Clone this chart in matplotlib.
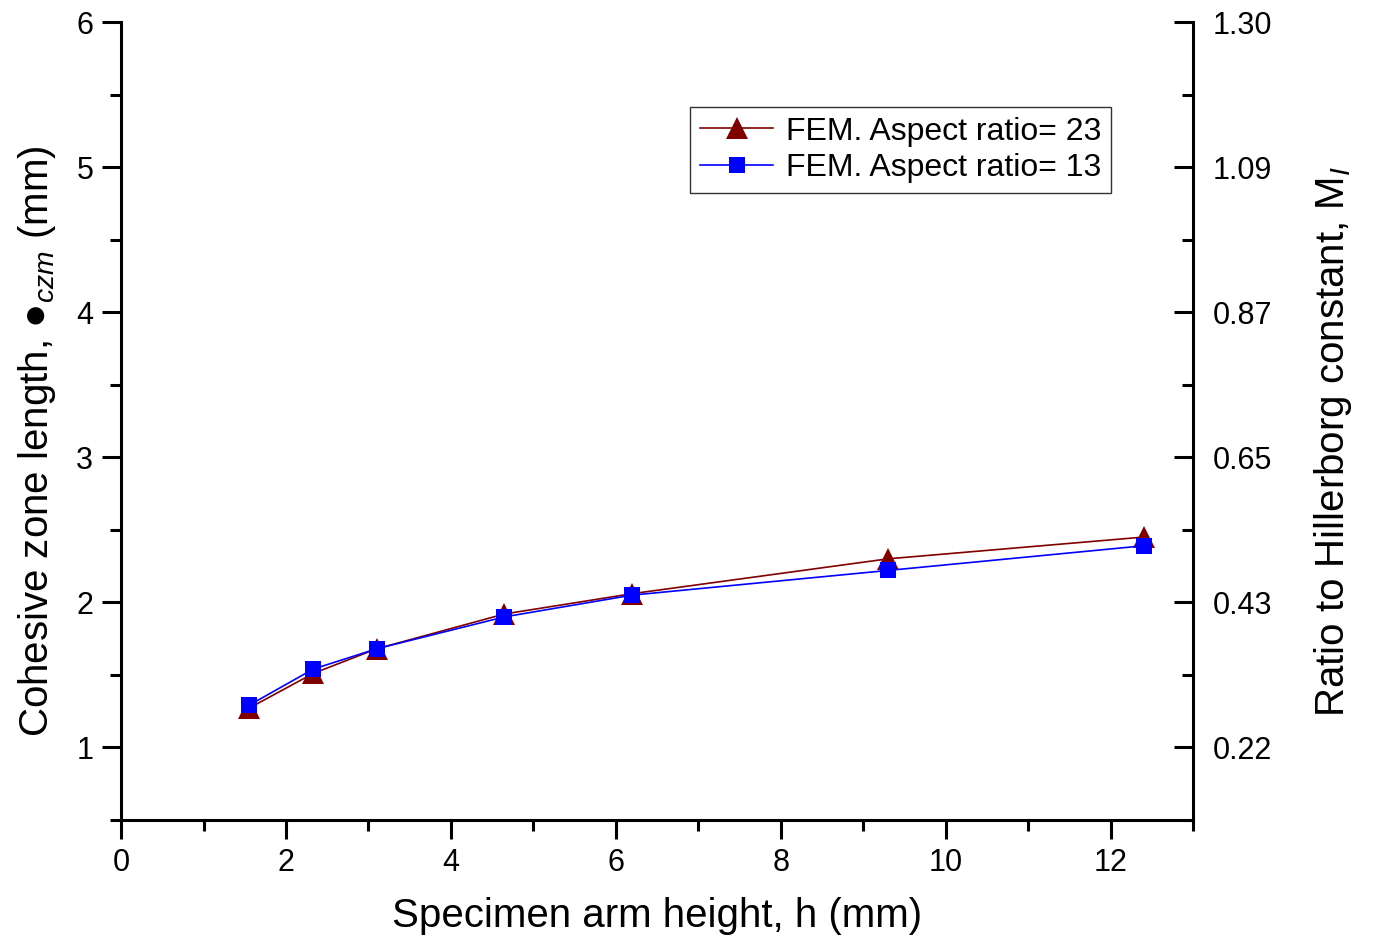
import matplotlib
matplotlib.use("Agg")
import matplotlib.pyplot as plt
from matplotlib.ticker import MultipleLocator, FixedLocator

plt.rcParams['font.family'] = ['Liberation Sans', 'DejaVu Sans']
plt.rcParams['mathtext.fontset'] = 'custom'
plt.rcParams['mathtext.rm'] = 'Liberation Sans'
plt.rcParams['mathtext.it'] = 'Liberation Sans:italic'
plt.rcParams['mathtext.fallback'] = 'stixsans'

# Specimen arm height h (mm)
arm_height = [1.55, 2.33, 3.1, 4.65, 6.2, 9.3, 12.4]
# Cohesive zone length (mm) for the two aspect ratios
czl_ratio23 = [1.27, 1.51, 1.68, 1.92, 2.06, 2.30, 2.45]
czl_ratio13 = [1.29, 1.54, 1.68, 1.90, 2.05, 2.22, 2.39]
series_labels = ["FEM. Aspect ratio= 23", "FEM. Aspect ratio= 13"]

left_ticks = [1, 2, 3, 4, 5, 6]
right_tick_labels = ["0.22", "0.43", "0.65", "0.87", "1.09", "1.30"]

fig = plt.figure(figsize=(13.74, 9.41), dpi=100)
ax = fig.add_axes([0.0881, 0.1286, 0.7802, 0.848])

ax.plot(arm_height, czl_ratio23, color="#800000", lw=1.2, marker="^",
        markersize=16, markeredgewidth=0, label=series_labels[0], zorder=3)
ax.plot(arm_height, czl_ratio13, color="#0000FF", lw=1.2, marker="s",
        markersize=12, markeredgewidth=0, label=series_labels[1], zorder=4)

ax.set_xlim(0, 13)
ax.set_ylim(0.5, 6)
ax.xaxis.set_major_locator(MultipleLocator(2))
ax.xaxis.set_minor_locator(MultipleLocator(1))
ax.yaxis.set_major_locator(FixedLocator(left_ticks))
ax.yaxis.set_minor_locator(MultipleLocator(0.5))

for sp in ["left", "bottom", "right"]:
    ax.spines[sp].set_linewidth(2.2)
ax.spines["top"].set_visible(False)

ax.tick_params(axis="both", which="major", direction="out", length=14,
               width=2.2, labelsize=22, pad=6)
ax.tick_params(axis="both", which="minor", direction="out", length=8,
               width=2.2)

ax.set_xlabel("Specimen arm height, h (mm)", fontsize=29, labelpad=14)
ax.set_ylabel("Cohesive zone length, ●$_{czm}$ (mm)", fontsize=29)
ax.yaxis.set_label_coords(-0.059, 0.474)

# Secondary scale: ratio to the Hillerborg constant
ax2 = ax.twinx()
ax2.set_ylim(ax.get_ylim())
ax2.yaxis.set_major_locator(FixedLocator(left_ticks))
ax2.set_yticklabels(right_tick_labels)
ax2.yaxis.set_minor_locator(MultipleLocator(0.5))
for sp in ax2.spines.values():
    sp.set_visible(False)
ax2.tick_params(axis="y", which="major", direction="in", length=14,
                width=2.2, labelsize=22, pad=14)
ax2.tick_params(axis="y", which="minor", direction="in", length=8, width=2.2)
ax2.set_ylabel("Ratio to Hillerborg constant, M$_I$", fontsize=29)
ax2.yaxis.set_label_coords(1.111, 0.474)

leg = ax.legend(loc="upper right", bbox_to_anchor=(0.9235, 0.8935),
                fontsize=23, frameon=True, fancybox=False, edgecolor="black",
                handlelength=2.3, borderpad=0.3, labelspacing=0.2,
                handletextpad=0.4, borderaxespad=0)
leg.get_frame().set_linewidth(1.0)

fig.savefig("out.png", dpi=100)
